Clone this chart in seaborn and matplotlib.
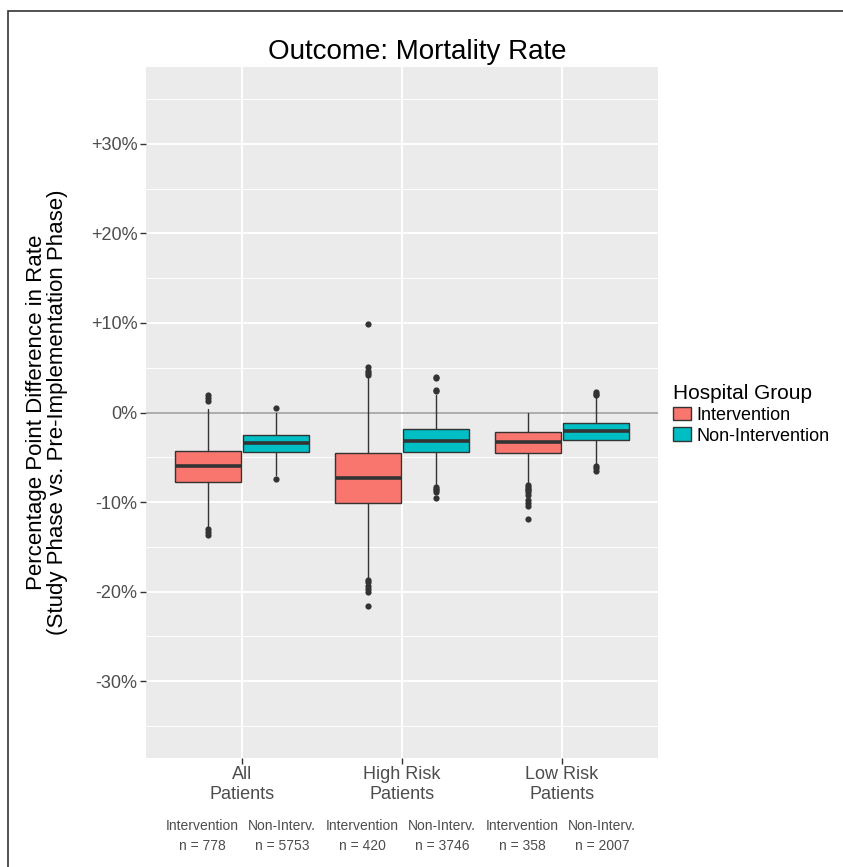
import matplotlib
matplotlib.use("Agg")
import matplotlib.pyplot as plt
import seaborn as sns
import pandas as pd
from matplotlib.patches import Patch, Rectangle

# values (percentage points)
groups = ["All\nPatients", "High Risk\nPatients", "Low Risk\nPatients"]
hosp = ["Intervention", "Non-Intervention"]
n_labels = [["778", "5753"], ["420", "3746"], ["358", "2007"]]

q1 = [[-7.8, -4.36], [-10.1, -4.36], [-4.54, -3.09]]
med = [[-6.0, -3.4], [-7.37, -3.13], [-3.24, -2.09]]
q3 = [[-4.25, -2.5], [-4.58, -1.79], [-2.2, -1.12]]
whislo = [[-12.9, -7.0], [-18.4, -8.1], [-7.9, -5.9]]
whishi = [[0.35, 0.0], [3.8, 2.0], [-0.1, 1.7]]
fliers = [
    [[-13.0, -13.3, -13.7, 1.3, 1.6, 1.9], [-7.4, 0.5]],
    [[4.2, 4.4, 4.6, 5.1, 9.9, -18.7, -18.9, -19.4, -19.7, -20.0, -21.6],
     [2.4, 2.5, 3.8, 4.0, -8.3, -8.5, -8.7, -8.9, -9.5]],
    [[-8.1, -8.3, -8.5, -8.7, -8.9, -9.2, -9.8, -10.1, -10.4, -11.9],
     [1.9, 2.1, 2.3, -6.0, -6.2, -6.5]],
]
colors = ["#F8766D", "#00BFC4"]

sns.set_theme(style="darkgrid", rc={
    "axes.facecolor": "#EBEBEB", "grid.color": "white",
    "axes.edgecolor": "none", "figure.facecolor": "white",
    "text.color": "black",
})
plt.rcParams["font.family"] = ["Liberation Sans", "DejaVu Sans"]

fig = plt.figure(figsize=(8.43, 8.67), dpi=100)
ax = fig.add_axes([146 / 843, 1 - 758 / 867, 512 / 843, 691 / 867])

offset = 0.2125
width = 0.415
edge = "#333333"

rows = []
for i in range(3):
    for j in range(2):
        pos = i + (-offset if j == 0 else offset)
        st = dict(med=med[i][j], q1=q1[i][j], q3=q3[i][j],
                  whislo=whislo[i][j], whishi=whishi[i][j], fliers=[])
        ax.bxp([st], positions=[pos], widths=width, patch_artist=True,
               showcaps=False, showfliers=False,
               boxprops=dict(facecolor=colors[j], edgecolor=edge, linewidth=1.0),
               medianprops=dict(color=edge, linewidth=2.6, solid_capstyle="butt"),
               whiskerprops=dict(color=edge, linewidth=1.0), manage_ticks=False,
               zorder=3)
        for v in fliers[i][j]:
            rows.append({"x": pos, "value": v})

out = pd.DataFrame(rows)
sns.scatterplot(data=out, x="x", y="value", ax=ax, color=edge, s=20,
                linewidth=0, zorder=4, legend=False)

ax.axhline(0, color="#A6A6A6", linewidth=1.3, zorder=2)

ax.set_xlim(-0.6, 2.6)
ax.set_ylim(-38.6, 38.6)
ax.set_xticks(range(3))
ax.set_xticklabels(groups)
yt = [-30, -20, -10, 0, 10, 20, 30]
ax.set_yticks(yt)
ax.set_yticklabels([("+" if v > 0 else "") + f"{v}%" for v in yt])
ax.set_yticks([-35, -25, -15, -5, 5, 15, 25, 35], minor=True)
ax.grid(which="major", axis="y", color="white", linewidth=1.4)
ax.grid(which="minor", axis="y", color="white", linewidth=0.7)
ax.grid(which="major", axis="x", color="white", linewidth=1.4)
ax.set_axisbelow(True)
ax.tick_params(axis="both", which="major", length=4, width=1.0, color="#333333",
               labelsize=13, labelcolor="#4D4D4D", pad=2, left=True, bottom=True)
ax.tick_params(axis="y", which="minor", length=0)
for lab in ax.get_xticklabels():
    lab.set_linespacing(1.2)
ax.set_xlabel("")
ax.set_ylabel("")

fig.text(417.5 / 843, 1 - 52 / 867, "Outcome: Mortality Rate", fontsize=20,
         ha="center", va="center", color="black")
fig.text(47 / 843, 1 - 412 / 867,
         "Percentage Point Difference in Rate\n(Study Phase vs. Pre-Implementation Phase)",
         fontsize=16, rotation=90, ha="center", va="center", linespacing=1.0,
         multialignment="center", color="black")

# group sizes under the x axis
for i in range(3):
    for j in range(2):
        xpos = i + (-0.25 if j == 0 else 0.25)
        xf = (146 + (xpos + 0.6) * 160) / 843
        lab = "Intervention" if j == 0 else "Non-Interv."
        fig.text(xf, 1 - 826 / 867, lab, fontsize=10, color="#4D4D4D",
                 ha="center", va="center")
        fig.text(xf, 1 - 846 / 867, f"n = {n_labels[i][j]}", fontsize=10,
                 color="#4D4D4D", ha="center", va="center")

handles = [Patch(facecolor=colors[k], edgecolor=edge, linewidth=1.0) for k in range(2)]
leg = fig.legend(handles, hosp, title="Hospital Group", loc="upper left",
                 bbox_to_anchor=(673 / 843, 1 - 384 / 867), frameon=False,
                 fontsize=13, title_fontsize=15, handlelength=1.0,
                 handleheight=0.8, handletextpad=0.3, labelspacing=0.2,
                 alignment="left", borderaxespad=0, borderpad=0)
for t in leg.get_texts():
    t.set_color("black")
leg.get_title().set_color("black")

fig.add_artist(Rectangle((8 / 843, -0.02), 1.1, 1 - 11 / 867 + 0.02,
                         transform=fig.transFigure, fill=False,
                         edgecolor="#333333", linewidth=1.2))

fig.savefig("out.png", dpi=100)
